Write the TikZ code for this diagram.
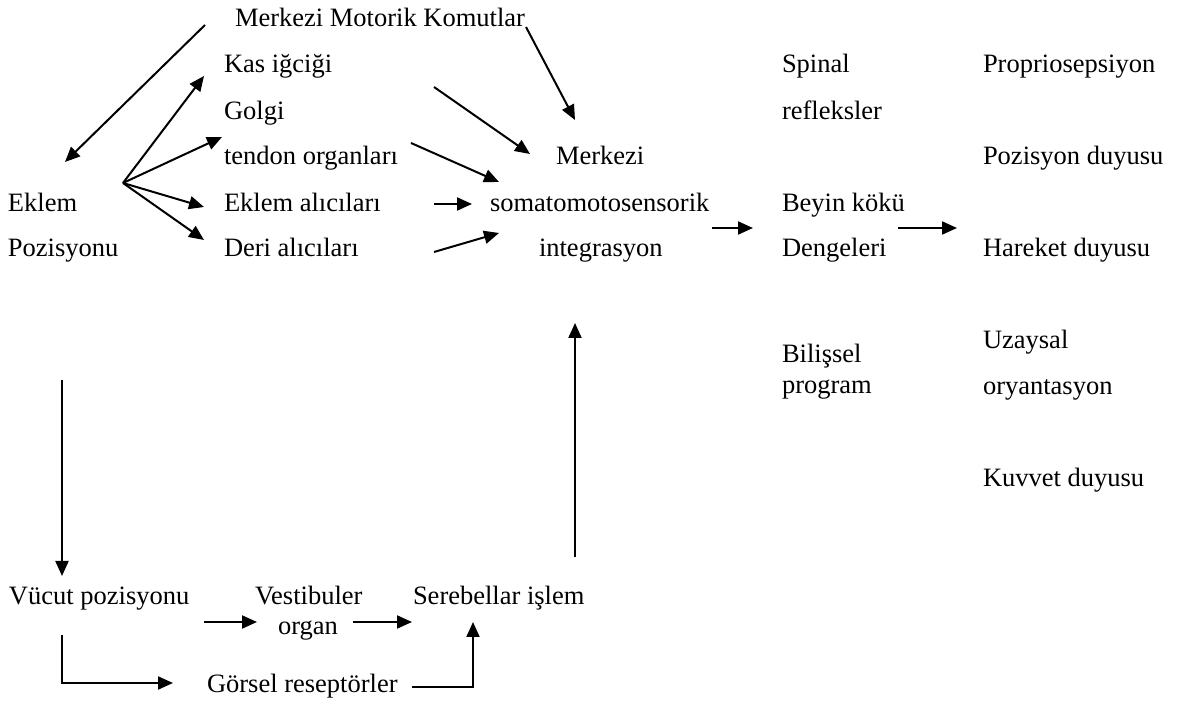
\documentclass[tikz,border=0pt]{standalone}
\usepackage{fontspec}
\setmainfont{Liberation Serif}
\usetikzlibrary{arrows.meta}
\tikzset{
  lbl/.style={anchor=base west, inner sep=0pt, outer sep=0pt, font=\fontsize{13.25pt}{16pt}\selectfont},
  arr/.style={line width=1pt, -{Triangle[length=7.5pt,width=6.5pt]}},
}
\begin{document}
\begin{tikzpicture}[x=0.5pt,y=-0.5pt]
\useasboundingbox (0,0) rectangle (1178,704);
% texts
\node[lbl] (mmk) at (235,27) {Merkezi Motorik Komutlar};
\node[lbl] (kas) at (224,73) {Kas iğciği};
\node[lbl] (golgi) at (224,120) {Golgi};
\node[lbl] (tendon) at (224,165) {tendon organları};
\node[lbl] (eklemal) at (224,212) {Eklem alıcıları};
\node[lbl] (deri) at (224,257) {Deri alıcıları};
\node[lbl] (eklem) at (8,212) {Eklem};
\node[lbl] (pozisyonu) at (8,257) {Pozisyonu};
\node[lbl] (merkezi) at (556,165) {Merkezi};
\node[lbl] (somato) at (490,212) {somatomotosensorik};
\node[lbl] (integ) at (539,257) {integrasyon};
\node[lbl] (spinal) at (782,73) {Spinal};
\node[lbl] (refleks) at (782,120) {refleksler};
\node[lbl] (beyin) at (782,212) {Beyin kökü};
\node[lbl] (dengeleri) at (782,257) {Dengeleri};
\node[lbl] (bilissel) at (782,363) {Bili\c{s}sel};
\node[lbl] (program) at (782,394) {program};
\node[lbl] (propri) at (983,73) {Propriosepsiyon};
\node[lbl] (pozduy) at (983,165) {Pozisyon duyusu};
\node[lbl] (hareket) at (983,257) {Hareket duyusu};
\node[lbl] (uzaysal) at (983,349) {Uzaysal};
\node[lbl] (oryant) at (983,395) {oryantasyon};
\node[lbl] (kuvvet) at (983,487) {Kuvvet duyusu};
\node[lbl] (vucut) at (9,605) {Vücut pozisyonu};
\node[lbl] (vestib) at (255,605) {Vestibuler};
\node[lbl] (organ) at (278,635) {organ};
\node[lbl] (sereb) at (413,605) {Serebellar i\c{s}lem};
\node[lbl] (gorsel) at (207,693) {Görsel reseptörler};
% connector end points
\coordinate (c1a) at (205,25);  \coordinate (c1b) at (65,162);
\coordinate (c2a) at (526,27);  \coordinate (c2b) at (575,120);
\coordinate (fan) at (123,183);
\coordinate (f1) at (204,76);   \coordinate (f2) at (222,137);
\coordinate (f3) at (204,207);  \coordinate (f4) at (204,240);
\coordinate (k1a) at (434,87);  \coordinate (k1b) at (530,154);
\coordinate (k2a) at (411,143); \coordinate (k2b) at (499,182);
\coordinate (k3a) at (434,204); \coordinate (k3b) at (472,204);
\coordinate (k4a) at (434,252); \coordinate (k4b) at (499,233);
\coordinate (s1a) at (712,228); \coordinate (s1b) at (753,228);
\coordinate (s2a) at (898,228); \coordinate (s2b) at (957,228);
\coordinate (v1a) at (62,380);  \coordinate (v1b) at (62,576);
\coordinate (u1a) at (575,557); \coordinate (u1b) at (575,323);
\coordinate (b1a) at (204,622); \coordinate (b1b) at (257,622);
\coordinate (b2a) at (353,622); \coordinate (b2b) at (412,622);
\coordinate (l1a) at (62,635);  \coordinate (l1c) at (62,683); \coordinate (l1b) at (173,683);
\coordinate (l2a) at (412,687); \coordinate (l2c) at (473,687); \coordinate (l2b) at (473,622);
% connectors
\draw[arr] (c1a) -- (c1b);
\draw[arr] (c2a) -- (c2b);
\draw[arr] (fan) -- (f1);
\draw[arr] (fan) -- (f2);
\draw[arr] (fan) -- (f3);
\draw[arr] (fan) -- (f4);
\draw[arr] (k1a) -- (k1b);
\draw[arr] (k2a) -- (k2b);
\draw[arr] (k3a) -- (k3b);
\draw[arr] (k4a) -- (k4b);
\draw[arr] (s1a) -- (s1b);
\draw[arr] (s2a) -- (s2b);
\draw[arr] (v1a) -- (v1b);
\draw[arr] (u1a) -- (u1b);
\draw[arr] (b1a) -- (b1b);
\draw[arr] (b2a) -- (b2b);
\draw[arr] (l1a) -- (l1c) -- (l1b);
\draw[arr] (l2a) -- (l2c) -- (l2b);
\end{tikzpicture}
\end{document}
